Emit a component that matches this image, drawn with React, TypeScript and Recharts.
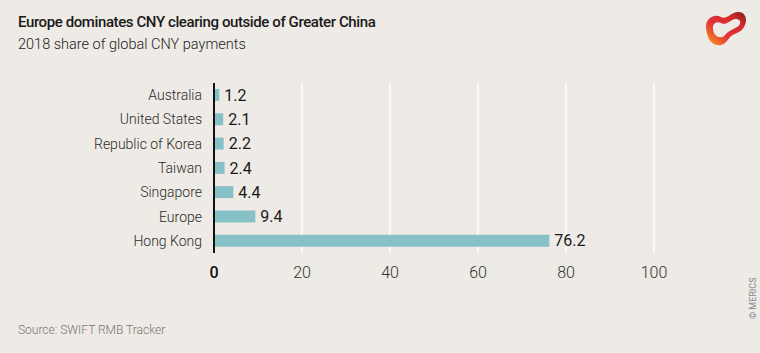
import React from 'react';
import { BarChart, Bar, XAxis, YAxis, CartesianGrid, LabelList } from 'recharts';

const countries = ['Australia', 'United States', 'Republic of Korea', 'Taiwan', 'Singapore', 'Europe', 'Hong Kong'];
const shares = [1.2, 2.1, 2.2, 2.4, 4.4, 9.4, 76.2];
const xTicks = [0, 20, 40, 60, 80, 100];

const data = countries.map((name, i) => ({ name, value: shares[i] }));

const BG = '#EEEAE5';
const BAR = '#86C1C8';
const FONT = 'Roboto, "Noto Sans", sans-serif';

const XTick = (props: any) => {
  const { x, y, payload } = props;
  const isZero = payload.value === 0;
  return (
    <text
      x={x}
      y={y}
      dy="0.71em"
      textAnchor="middle"
      fontFamily={FONT}
      fontSize={16}
      fontWeight={isZero ? 500 : 300}
      fill={isZero ? '#111' : '#333'}
    >
      {payload.value}
    </text>
  );
};

const Logo = () => (
  <svg width={50} height={50} style={{ position: 'absolute', left: 700, top: 4 }}>
    <defs>
      <linearGradient id="lg" x1="0" y1="1" x2="1" y2="0">
        <stop offset="0%" stopColor="#F7A21B" />
        <stop offset="40%" stopColor="#E5323A" />
        <stop offset="75%" stopColor="#D42B2B" />
        <stop offset="100%" stopColor="#7A1E14" />
      </linearGradient>
    </defs>
    <path
      fillRule="evenodd"
      fill="url(#lg)"
      d="M6 24 C5 15 14 9 21 13 C27 16 31 8 38 8 C46 8 48 16 44 23 C41 29 34 29 30 33 C26 38 24 42 17 41 C10 40 7 32 6 24 Z
         M13 25 C12 19 17 17 21 19 C26 22 30 16 35 15 C41 14 42 20 37 23 C32 26 28 27 25 31 C22 35 14 34 13 25 Z"
    />
  </svg>
);

export default function App() {
  return (
    <div
      style={{
        position: 'absolute',
        left: 0,
        top: 0,
        width: 760,
        height: 353,
        background: BG,
        fontFamily: FONT,
        overflow: 'hidden',
      }}
    >
      <div style={{ position: 'absolute', left: 18, top: 13, fontSize: 15, fontWeight: 500, letterSpacing: -0.4, color: '#1a1a1a', whiteSpace: 'nowrap' }}>
        Europe dominates CNY clearing outside of Greater China
      </div>
      <div style={{ position: 'absolute', left: 18, top: 36, fontSize: 14.5, fontWeight: 300, color: '#222', whiteSpace: 'nowrap' }}>
        2018 share of global CNY payments
      </div>
      <Logo />
      <BarChart
        width={760}
        height={353}
        data={data}
        layout="vertical"
        margin={{ top: 83, right: 106, bottom: 70, left: 0 }}
        barCategoryGap={6}
        style={{ position: 'absolute', left: 0, top: 0 }}
      >
        <CartesianGrid horizontal={false} stroke="#FFFFFF" strokeWidth={1.5} />
        <XAxis
          type="number"
          domain={[0, 100]}
          ticks={xTicks}
          axisLine={false}
          tickLine={false}
          tickSize={0}
          tickMargin={14}
          tick={<XTick />}
          height={30}
        />
        <YAxis
          type="category"
          dataKey="name"
          width={214}
          axisLine={{ stroke: '#111', strokeWidth: 2 }}
          tickLine={false}
          tickSize={0}
          tickMargin={12}
          tick={{ fontSize: 14, fill: '#2a2a2a', fontFamily: FONT, fontWeight: 300 }}
        />
        <Bar dataKey="value" fill={BAR} barSize={12} isAnimationActive={false}>
          <LabelList dataKey="value" position="right" offset={5} fill="#1a1a1a" fontSize={16} fontFamily={FONT} />
        </Bar>
      </BarChart>
      <div style={{ position: 'absolute', left: 18, top: 323, fontSize: 12, fontWeight: 300, color: '#777', whiteSpace: 'nowrap' }}>
        Source: SWIFT RMB Tracker
      </div>
      <div
        style={{
          position: 'absolute',
          left: 748,
          top: 319,
          fontSize: 9,
          color: '#888',
          whiteSpace: 'nowrap',
          transform: 'rotate(-90deg)',
          transformOrigin: '0 0',
        }}
      >
        © MERICS
      </div>
    </div>
  );
}
